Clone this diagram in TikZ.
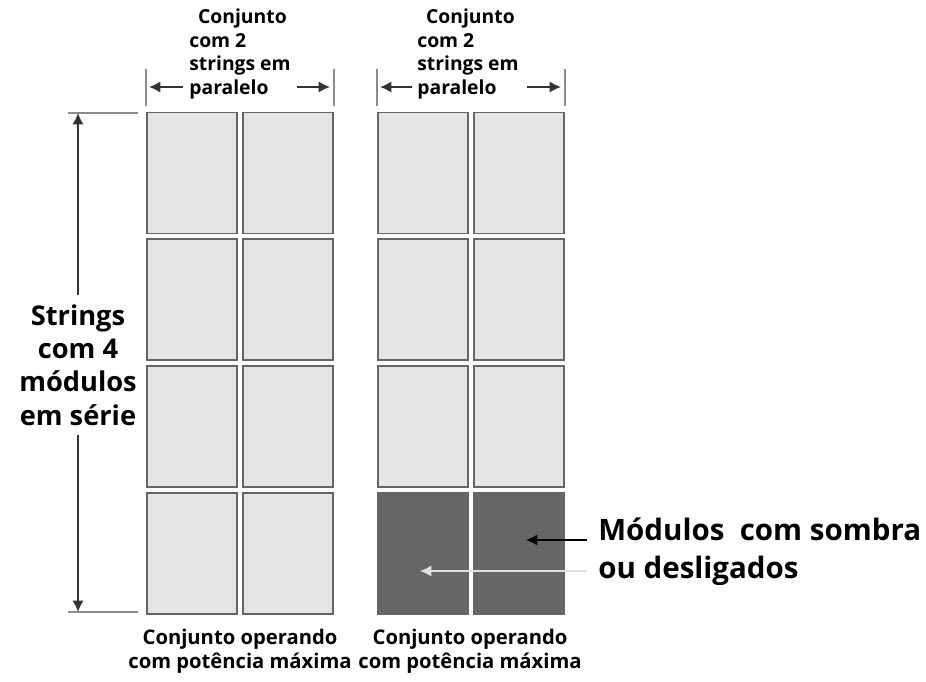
\documentclass[tikz,border=0pt]{standalone}
\usepackage{fontspec}
\setmainfont{Open Sans}
\usetikzlibrary{positioning,arrows.meta}

\tikzset{
    modulo/.style={draw=black!60, fill=black!10, line width=1.1pt, minimum width=1.8cm, minimum height=2.42cm, inner sep=0pt},
    sombra/.style={modulo, fill=black!60},
    cota/.style={black!80, line width=1.1pt, -{Latex[length=6.5pt,width=6.5pt]}},
    extensao/.style={black!45, line width=0.9pt},
    rotulo/.style={font=\bfseries\fontsize{11}{13.6}\selectfont, align=left, inner sep=0pt}
}

\begin{document}
\begin{tikzpicture}[x=0.02cm, y=-0.02cm]
    \useasboundingbox (0,0) rectangle (926,682);

    % conjunto da esquerda
    \node[modulo] (E11) at (192,173) {};
    \node[modulo, right=0.08cm of E11] (E12) {};
    \node[modulo, below=0.08cm of E11] (E21) {};
    \node[modulo, below=0.08cm of E12] (E22) {};
    \node[modulo, below=0.08cm of E21] (E31) {};
    \node[modulo, below=0.08cm of E22] (E32) {};
    \node[modulo, below=0.08cm of E31] (E41) {};
    \node[modulo, below=0.08cm of E32] (E42) {};

    % conjunto da direita
    \node[modulo] (D11) at (423,173) {};
    \node[modulo, right=0.08cm of D11] (D12) {};
    \node[modulo, below=0.08cm of D11] (D21) {};
    \node[modulo, below=0.08cm of D12] (D22) {};
    \node[modulo, below=0.08cm of D21] (D31) {};
    \node[modulo, below=0.08cm of D22] (D32) {};
    \node[sombra, below=0.08cm of D31] (D41) {};
    \node[sombra, below=0.08cm of D32] (D42) {};

    % cotas de cima
    \node[rotulo] (ParE) at (240,54) {\hspace{5pt}Conjunto\\com 2\\strings em\\paralelo};
    \node[rotulo] (ParD) at (468,54) {\hspace{5pt}Conjunto\\com 2\\strings em\\paralelo};

    \draw[extensao] ([yshift=0.12cm]E11.north west) -- ([yshift=0.86cm]E11.north west);
    \draw[extensao] ([yshift=0.12cm]E12.north east) -- ([yshift=0.86cm]E12.north east);
    \draw[extensao] ([yshift=0.12cm]D11.north west) -- ([yshift=0.86cm]D11.north west);
    \draw[extensao] ([yshift=0.12cm]D12.north east) -- ([yshift=0.86cm]D12.north east);

    \coordinate (a1) at (183,87);
    \coordinate (a2) at (149,87);
    \coordinate (a3) at (297,87);
    \coordinate (a4) at (330,87);
    \coordinate (b1) at (412,87);
    \coordinate (b2) at (380,87);
    \coordinate (b3) at (527,87);
    \coordinate (b4) at (561,87);
    \draw[cota] (a1) -- (a2);
    \draw[cota] (a3) -- (a4);
    \draw[cota] (b1) -- (b2);
    \draw[cota] (b3) -- (b4);

    % cota da esquerda
    \node[rotulo, align=center, font=\bfseries\fontsize{15.5}{19}\selectfont, inner sep=5pt] (Serie) at (78,365) {Strings\\com 4\\módulos\\em série};
    \coordinate (topo) at (78,113);
    \coordinate (base) at (78,612);
    \coordinate (t1) at (68,113);
    \coordinate (t2) at (138,113);
    \coordinate (t3) at (68,612);
    \coordinate (t4) at (138,612);
    \draw[extensao] (t1) -- (t2);
    \draw[extensao] (t3) -- (t4);
    \draw[cota] (Serie.north) -- (topo);
    \draw[cota] (Serie.south) -- (base);

    % rotulos de baixo
    \node[rotulo, align=center, font=\bfseries\fontsize{11.5}{13.6}\selectfont] (OpE) at (240,651) {Conjunto operando\\com potência máxima};
    \node[rotulo, align=center, font=\bfseries\fontsize{11.5}{13.6}\selectfont] (OpD) at (470,651) {Conjunto operando\\com potência máxima};

    % modulos com sombra
    \node[rotulo, anchor=west, font=\bfseries\fontsize{16.8}{21.5}\selectfont] (Sombra) at (598,552) {Módulos\ \ com sombra\\ou desligados};
    \coordinate (s1) at (587,540);
    \coordinate (s2) at (526,540);
    \coordinate (s3) at (587,571);
    \coordinate (s4) at (420,571);
    \draw[cota, black] (s1) -- (s2);
    \draw[cota, white!88!black, line width=0.9pt] (s3) -- (s4);
\end{tikzpicture}
\end{document}
